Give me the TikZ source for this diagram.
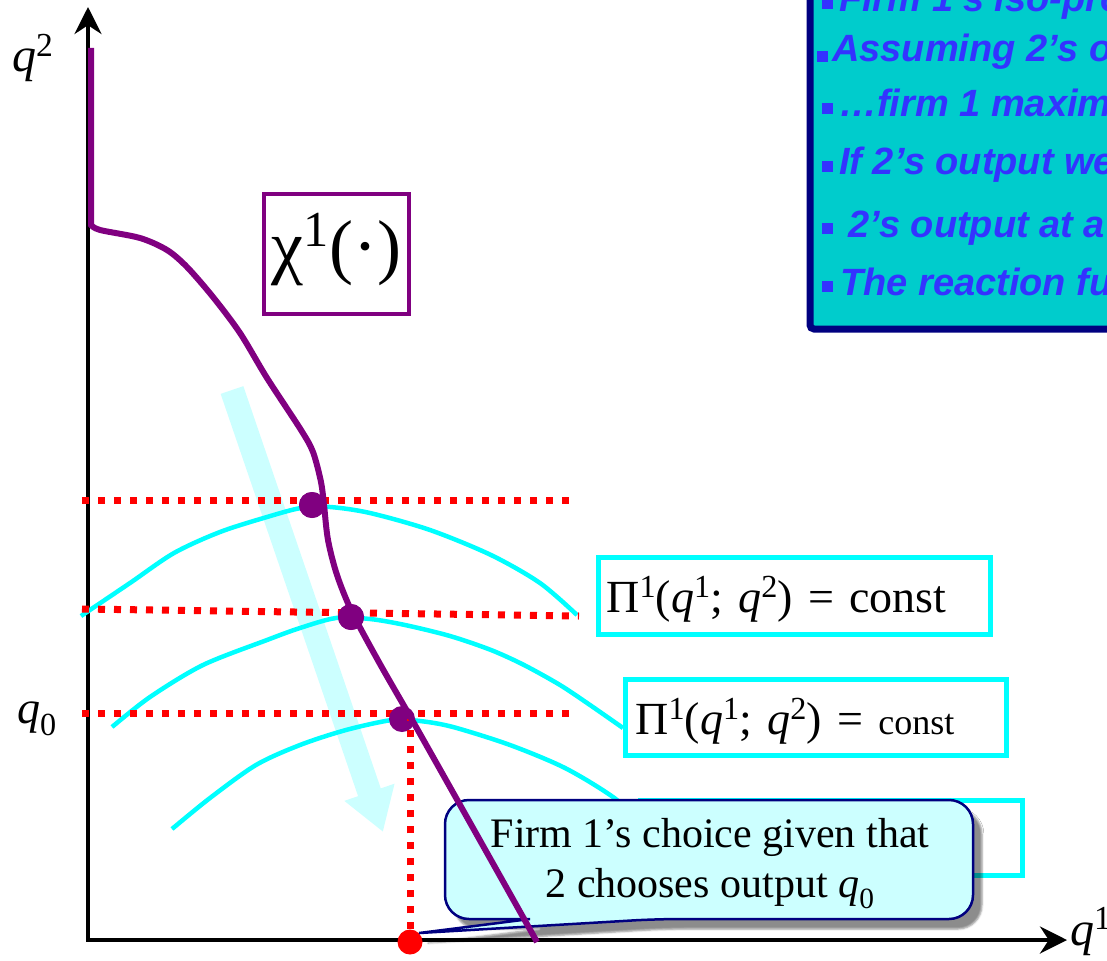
\documentclass[tikz,border=0pt]{standalone}
\usepackage{fontspec}
\setmainfont{Liberation Serif}
\newfontfamily\arialfont{Liberation Sans}
\usetikzlibrary{arrows.meta,positioning,shadows.blur}

\definecolor{reacpurple}{HTML}{800080}
\definecolor{isocyan}{HTML}{00FFFF}
\definecolor{bandcyan}{HTML}{CCFFFF}
\definecolor{notefill}{HTML}{00CCCC}
\definecolor{notenavy}{HTML}{000080}
\definecolor{noteblue}{HTML}{3333FF}

\newcommand{\fsz}[2]{\fontsize{#1}{#2}\selectfont}
\newcommand{\bul}[1][3pt]{\rule[#1]{11pt}{11pt}}
\makeatletter
\newcommand{\hi}[1]{\raisebox{.32em}{\fontsize{\strip@pt\dimexpr.7\dimexpr\f@size pt\relax\relax}{0}\selectfont#1}}
\makeatother

\begin{document}
\begin{tikzpicture}[
  x=1pt, y=-1pt,
  axis/.style={line width=4pt,{Stealth[length=27pt,width=27pt]}-{Stealth[length=27pt,width=27pt]}},
  reac/.style={reacpurple,line width=6pt},
  iso/.style={isocyan,line width=4.5pt},
  level/.style={red,line width=7pt,dash pattern=on 7pt off 9pt},
  band/.style={bandcyan,line width=24pt,-{Triangle[length=42pt,width=50pt]}},
  pdot/.style={circle,fill=reacpurple,inner sep=0pt,minimum size=26pt},
  reddot/.style={circle,fill=red,inner sep=0pt,minimum size=25pt},
  lab/.style={anchor=base west,inner sep=0pt,font=\fsz{48}{58}},
  ebox/.style={draw=isocyan,line width=5pt,fill=white,anchor=north west,
    inner ysep=0pt,align=left,font=\fsz{46}{56}},
  chibox/.style={draw=reacpurple,line width=4pt,fill=white,anchor=north west,
    inner sep=0pt,align=center,text width=145pt,font=\fsz{72}{86}},
  callbox/.style={fill=bandcyan,draw=notenavy,line width=2.5pt,
    blur shadow={shadow xshift=9pt,shadow yshift=-10pt,shadow opacity=45}},
  calltext/.style={align=center,inner sep=0pt,font=\fsz{42}{50}},
  notebox/.style={fill=notefill,draw=notenavy,line width=7pt,rounded corners=4pt},
  note/.style={anchor=base west,inner sep=0pt,text=noteblue,
    font=\arialfont\bfseries\itshape\fsz{38}{45}}
]
\useasboundingbox (0,0) rectangle (1107,960);
\clip (0,0) rectangle (1107,960);

% Notes box (top right)
\draw[notebox] (810,-30) rectangle (1140,329);
\node[note] (n1) at (822,12) {\bul\hspace{6pt}Firm 1’s iso-pro};
\node[note] (n2) at (817,62) {\bul[0pt]\hspace{4pt}Assuming 2’s o};
\node[note] (n3) at (822,117) {\bul\hspace{6pt}…firm 1 maxim};
\node[note] (n4) at (822,175) {\bul\hspace{6pt}If 2’s output we};
\node[note] (n5) at (822,237) {\bul\hspace{15pt}2’s output at a};
\node[note] (n6) at (822,295) {\bul\hspace{7pt}The reaction fu};

% Direction of improvement
\coordinate (bandtop) at (232,390);
\coordinate (bandtip) at (383,832);
\draw[band] (bandtop) -- (bandtip);

% Axes
\coordinate (O) at (88,940);
\coordinate (ytip) at (88,7);
\coordinate (xtip) at (1067,940);
\draw[axis] (ytip) -- (O) -- (xtip);

% Iso-profit curves
\draw[iso] plot[smooth] coordinates {(81,616) (130,583) (174,553) (220,532)
  (267,517) (301,508) (330,507) (370,513) (430,530) (491,555) (540,583) (577,615)};
\draw[iso] plot[smooth] coordinates {(112,727) (150,697) (203,665) (267,640)
  (300,628) (336,618) (370,619) (405,625) (450,636) (491,650) (524,665)
  (560,685) (590,705) (623,728)};
\draw[iso] plot[smooth] coordinates {(172,829) (210,798) (256,765) (300,745)
  (346,730) (392,720) (420,721) (453,727) (510,745) (565,768) (613,797) (645,825)};

\node[ebox,text width=376pt,inner xsep=8pt,text height=55pt,text depth=22pt] (pi1) at (596,555)
  {Π\hi{1}(\textit{q}\hi{1}; \textit{q}\hi{2}) = const};
\node[ebox,text width=361pt,inner xsep=10pt,text height=55pt,text depth=21pt] (pi2) at (623,677)
  {Π\hi{1}(\textit{q}\hi{1}; \textit{q}\hi{2}) = {\fsz{36}{43}const}};
\node[ebox,minimum width=382pt,minimum height=75pt,inner xsep=0pt] (pi3) at (638,798) {};

% Output levels of firm 2
\draw[level] (82,500) -- (570,500);
\draw[level] (82,609) -- (579,616);
\draw[level] (82,713) -- (571,713);

\node[pdot] (d1) at (312,505) {};
\node[pdot] (d2) at (351,617) {};
\node[pdot] (d3) at (402,719) {};
\node[reddot] (q0pt) at (410,942) {};
\draw[level] (q0pt) -- (q0pt |- d3);

% Callout
\path[callbox] (657,919) -- (q0pt.north east) -- (530,919) [rounded corners=24pt]
  -- (445,919) -- (445,800) -- (973,800) -- (973,919) -- cycle;
\node[calltext] (choice) at (710,864)
  {Firm 1’s choice given that\\2 chooses output \textit{q}\textsubscript{0}};

% Reaction function
\draw[reac] (91,48) -- plot[smooth] coordinates {(91,225) (100,230) (140,238)
  (167,250) (187,267) (213,297) (240,333) (267,378) (301,430) (313,452) (321,482)
  (324,505) (328,540) (337,575) (352,612) (380,664) (411,718) (446,780) (491,860) (537,942)};
\node[pdot] at (d1) {};
\node[pdot] at (d2) {};

\node[chibox,text height=76pt,text depth=44pt] (chi) at (262,192)
  {χ\hi{1}(·)};

% Axis labels
\node[lab] (lq2) at (12,72) {\textit{q}\hi{2}};
\node[lab,font=\fsz{46}{55}] (lq0) at (17,723) {\textit{q}\textsubscript{0}};
\node[lab] (lq1) at (1070,945) {\textit{q}\hi{1}};
\end{tikzpicture}
\end{document}
